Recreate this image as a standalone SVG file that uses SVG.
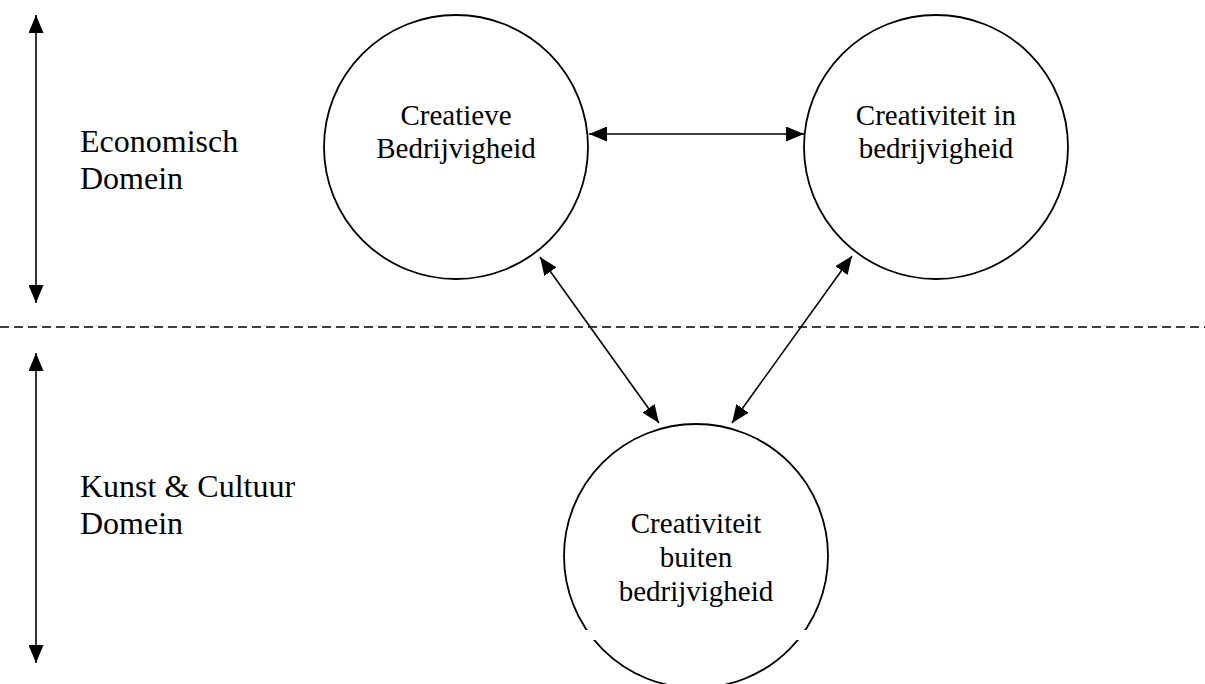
<svg xmlns="http://www.w3.org/2000/svg" width="1205" height="684" viewBox="0 0 1205 684">
<style>
.node{fill:#fff;stroke:#000;stroke-width:1.8}
.lbl{font-family:"Liberation Serif","Times New Roman",serif;font-size:29px;fill:#000;text-anchor:middle}
.side{font-family:"Liberation Serif","Times New Roman",serif;font-size:32px;fill:#000}
.conn{stroke:#000;stroke-width:1.6;fill:none;marker-start:url(#ah);marker-end:url(#ah)}
</style>
<defs>
<marker id="ah" viewBox="0 0 18 15" refX="18" refY="7.5" markerWidth="18" markerHeight="15" markerUnits="userSpaceOnUse" orient="auto-start-reverse">
<path d="M0,0 L18,7.5 L0,15 z" fill="#000"/>
</marker>
</defs>
<rect width="1205" height="684" fill="#fff"/>
<line x1="0" y1="327" x2="1205" y2="327" stroke="#000" stroke-width="1.5" stroke-dasharray="9,5"/>
<g id="axis-econ">
<line class="conn" x1="36" y1="15" x2="36" y2="303"/>
<text class="side" x="80" y="152">Economisch</text>
<text class="side" x="80" y="189">Domein</text>
</g>
<g id="axis-kunst">
<line class="conn" x1="36" y1="353" x2="36" y2="663"/>
<text class="side" x="80" y="497">Kunst &amp; Cultuur</text>
<text class="side" x="80" y="534">Domein</text>
</g>
<g id="n1">
<circle class="node" cx="456" cy="147" r="132"/>
<text class="lbl" x="456" y="125">Creatieve</text>
<text class="lbl" x="456" y="158">Bedrijvigheid</text>
</g>
<g id="n2">
<circle class="node" cx="936" cy="147" r="132"/>
<text class="lbl" x="936" y="125">Creativiteit in</text>
<text class="lbl" x="936" y="158">bedrijvigheid</text>
</g>
<g id="n3">
<circle class="node" cx="696" cy="556" r="132"/>
<rect x="570" y="630" width="260" height="10" fill="#fff"/>
<text class="lbl" x="696" y="533">Creativiteit</text>
<text class="lbl" x="696" y="567">buiten</text>
<text class="lbl" x="696" y="601">bedrijvigheid</text>
</g>
<g id="connectors">
<line class="conn" x1="589" y1="134" x2="804" y2="134"/>
<line class="conn" x1="540" y1="257" x2="659" y2="423"/>
<line class="conn" x1="852" y1="256" x2="732" y2="423"/>
</g>
</svg>
